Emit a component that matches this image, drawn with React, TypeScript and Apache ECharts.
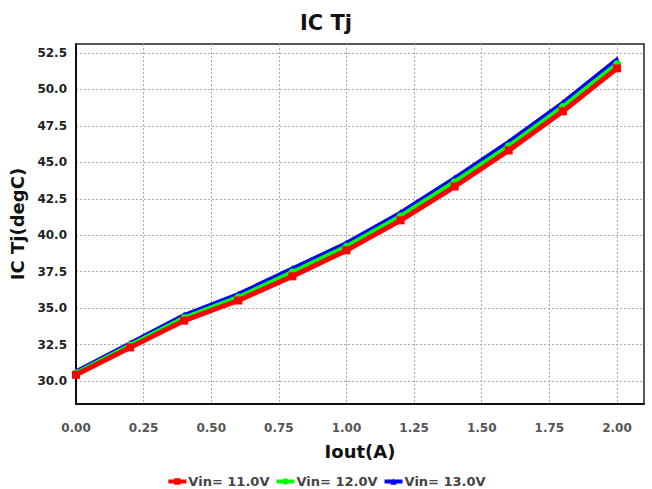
import React, { useEffect, useRef } from "react";
import * as echarts from "echarts";

const xValues = [0, 0.2, 0.4, 0.6, 0.8, 1.0, 1.2, 1.4, 1.6, 1.8, 2.0];
const vin11 = [30.42, 32.3, 34.14, 35.52, 37.18, 38.96, 41.02, 43.34, 45.82, 48.5, 51.45];
const vin12 = [30.52, 32.43, 34.32, 35.73, 37.45, 39.21, 41.29, 43.64, 46.1, 48.8, 51.74];
const vin13 = [30.62, 32.56, 34.49, 35.93, 37.68, 39.43, 41.52, 43.89, 46.37, 49.05, 52.02];
const seriesNames = ["Vin= 11.0V", "Vin= 12.0V", "Vin= 13.0V"];
const xTicks = [0, 0.25, 0.5, 0.75, 1.0, 1.25, 1.5, 1.75, 2.0];
const yTicks = [30, 32.5, 35, 37.5, 40, 42.5, 45, 47.5, 50, 52.5];

const FONT = "DejaVu Sans";

export default function App() {
  const ref = useRef<HTMLDivElement>(null);
  useEffect(() => {
    if (!ref.current) return;
    const chart = echarts.init(ref.current, null, { renderer: "svg" });
    const mk = (name: string, data: number[], color: string, symbol: string, z: number) => ({
      name,
      type: "line",
      data: xValues.map((x, i) => [x, data[i]]),
      symbol,
      symbolSize: 8,
      z,
      lineStyle: { color, width: 5 },
      itemStyle: { color },
    });
    chart.setOption({
      animation: false,
      backgroundColor: "#ffffff",
      title: {
        text: "IC Tj",
        left: "center",
        top: 7,
        textStyle: { fontFamily: FONT, fontWeight: "bold", fontSize: 21, color: "#111" },
      },
      legend: {
        bottom: 1,
        left: "center",
        padding: 0,
        itemWidth: 18,
        itemHeight: 8,
        itemGap: 5,
        data: seriesNames,
        lineStyle: { width: 4 },
        textStyle: { fontFamily: FONT, fontWeight: "bold", fontSize: 13, color: "#444", padding: [0, 0, 0, -3] },
      },
      grid: {
        left: 76,
        top: 44,
        right: 8,
        bottom: 85,
        show: true,
        borderColor: "#222",
        borderWidth: 1.5,
        containLabel: false,
      },
      xAxis: {
        type: "value",
        min: 0,
        max: 2.1,
        name: "Iout(A)",
        nameLocation: "middle",
        nameGap: 38,
        nameTextStyle: { fontFamily: FONT, fontWeight: "bold", fontSize: 18, color: "#111" },
        axisLine: { lineStyle: { color: "#111", width: 2 } },
        axisTick: { show: false, customValues: xTicks },
        axisLabel: {
          customValues: xTicks,
          formatter: (v: number) => v.toFixed(2),
          fontFamily: FONT,
          fontWeight: "bold",
          fontSize: 12,
          color: "#555",
          margin: 18,
        },
        splitLine: { show: true, lineStyle: { color: "#aaa", type: [2, 2], width: 1 } },
      },
      yAxis: {
        type: "value",
        min: 28.42,
        max: 53.12,
        name: "IC Tj(degC)",
        nameLocation: "middle",
        nameGap: 41,
        nameTextStyle: { fontFamily: FONT, fontWeight: "bold", fontSize: 18, color: "#111" },
        axisLine: { show: true, lineStyle: { color: "#111", width: 2 } },
        axisTick: { show: false, customValues: yTicks },
        axisLabel: {
          customValues: yTicks,
          formatter: (v: number) => v.toFixed(1),
          fontFamily: FONT,
          fontWeight: "bold",
          fontSize: 12,
          color: "#222",
          margin: 9,
        },
        splitLine: { show: true, lineStyle: { color: "#aaa", type: [2, 2], width: 1 } },
      },
      series: [
        mk(seriesNames[0], vin11, "#ff0000", "rect", 5),
        mk(seriesNames[1], vin12, "#00ff00", "circle", 4),
        mk(seriesNames[2], vin13, "#0000ff", "triangle", 3),
      ],
    });
    return () => chart.dispose();
  }, []);
  return (
    <div
      ref={ref}
      style={{ position: "fixed", left: 0, top: 0, width: 652, height: 489 }}
    />
  );
}
